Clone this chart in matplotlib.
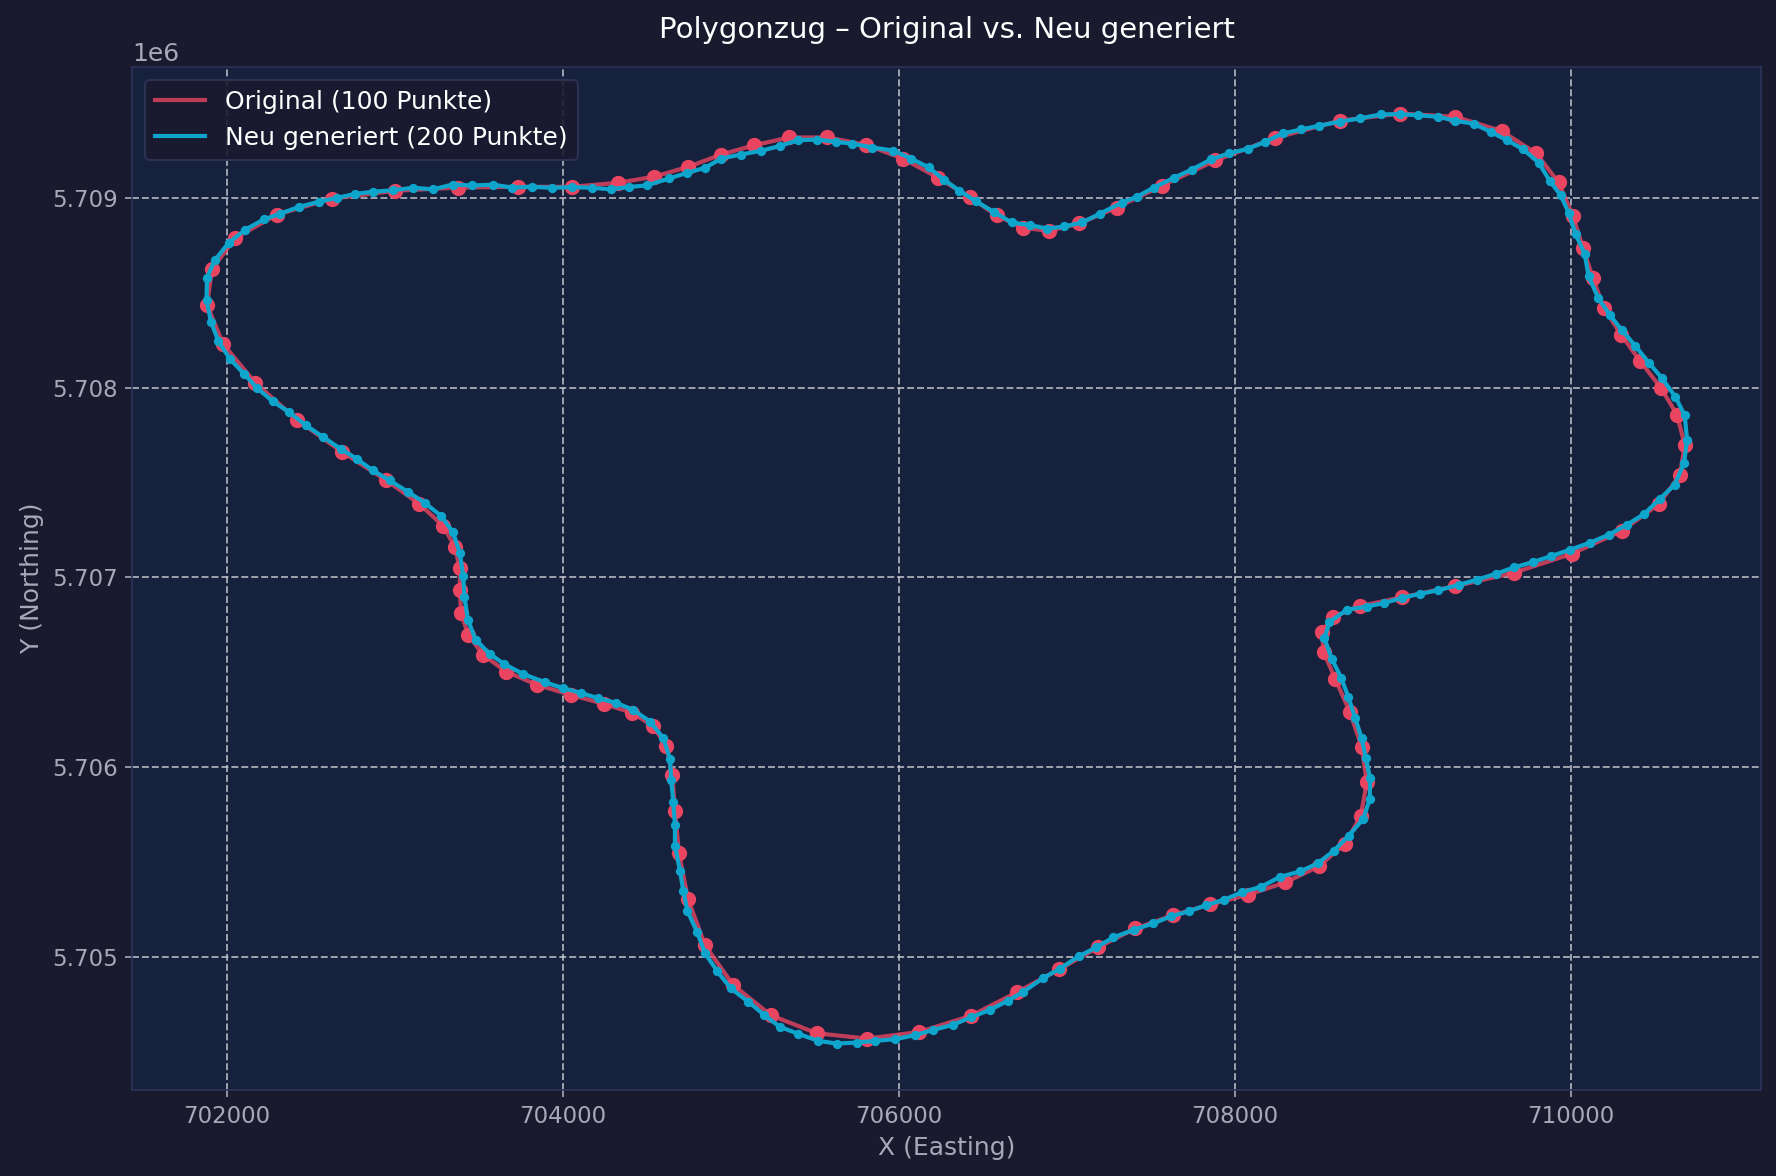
import numpy as np
import matplotlib
matplotlib.use("Agg")
import matplotlib.pyplot as plt

# Original polygon (100 points)
orig_x = [701881, 701911, 702050, 702298, 702626, 702999, 703376, 703734, 704052, 704325,
          704542, 704745, 704943, 705138, 705348, 705575, 705805, 706024, 706236, 706425,
          706584, 706737, 706896, 707075, 707297, 707565, 707885, 708242, 708624, 708985,
          709313, 709589, 709795, 709928, 710013, 710073, 710133, 710198, 710300, 710413,
          710536, 710633, 710679, 710651, 710526, 710305, 710008, 709662, 709311, 708998,
          708743, 708584, 708518, 708530, 708598, 708685, 708756, 708786, 708750, 708654,
          708500, 708302, 708081, 707855, 707630, 707408, 707188, 706955, 706701, 706429,
          706121, 705813, 705512, 705238, 705013, 704846, 704745, 704691, 704667, 704651,
          704616, 704538, 704413, 704244, 704050, 703847, 703662, 703525, 703436, 703394,
          703386, 703386, 703357, 703287, 703144, 702944, 702685, 702417, 702167, 701976]
orig_y = [5708437, 5708626, 5708789, 5708912, 5708996, 5709037, 5709054, 5709058, 5709058, 5709079,
          5709111, 5709163, 5709228, 5709277, 5709318, 5709318, 5709279, 5709207, 5709105, 5709002,
          5708907, 5708842, 5708826, 5708865, 5708949, 5709063, 5709197, 5709316, 5709406, 5709444,
          5709427, 5709352, 5709234, 5709081, 5708905, 5708738, 5708575, 5708420, 5708279, 5708141,
          5708000, 5707858, 5707699, 5707541, 5707387, 5707246, 5707125, 5707025, 5706954, 5706896,
          5706849, 5706791, 5706712, 5706606, 5706466, 5706293, 5706106, 5705921, 5705742, 5705596,
          5705478, 5705394, 5705329, 5705278, 5705220, 5705151, 5705053, 5704936, 5704814, 5704691,
          5704606, 5704571, 5704599, 5704694, 5704854, 5705063, 5705306, 5705547, 5705771, 5705961,
          5706111, 5706216, 5706287, 5706334, 5706381, 5706434, 5706504, 5706592, 5706698, 5706812,
          5706935, 5707049, 5707160, 5707272, 5707388, 5707515, 5707661, 5707831, 5708026, 5708231]

# Newly generated polygon (200 points)
new_x = [701878, 701881, 701927, 702010, 702110, 702219, 702318, 702427, 702546, 702656,
         702765, 702870, 702990, 703108, 703227, 703345, 703460, 703585, 703698, 703814,
         703933, 704052, 704171, 704284, 704395, 704502, 704632, 704741, 704846, 704943,
         705059, 705182, 705295, 705402, 705515, 705625, 705724, 705843, 705966, 706073,
         706177, 706270, 706359, 706459, 706568, 706673, 706781, 706885, 706985, 707090,
         707198, 707326, 707416, 707518, 707637, 707744, 707859, 707964, 708077, 708181,
         708286, 708395, 708504, 708624, 708743, 708868, 708981, 709090, 709209, 709313,
         709424, 709527, 709620, 709716, 709809, 709875, 709940, 709988, 710030, 710083,
         710107, 710163, 710232, 710305, 710385, 710466, 710543, 710624, 710679, 710693,
         710675, 710620, 710532, 710437, 710335, 710226, 710115, 709998, 709885, 709775,
         709662, 709553, 709444, 709334, 709209, 709102, 708998, 708887, 708786, 708667,
         708564, 708534, 708578, 708634, 708677, 708717, 708756, 708780, 708806, 708804,
         708765, 708679, 708588, 708494, 708391, 708270, 708157, 708041, 707934, 707829,
         707726, 707620, 707515, 707398, 707277, 707174, 707070, 706960, 706856, 706741,
         706648, 706542, 706429, 706320, 706206, 706097, 705978, 705859, 705748, 705629,
         705520, 705402, 705291, 705198, 705104, 705000, 704919, 704846, 704800, 704741,
         704717, 704697, 704667, 704667, 704657, 704645, 704638, 704598, 704519, 704418,
         704318, 704211, 704106, 704002, 703893, 703762, 703649, 703563, 703480, 703434,
         703414, 703406, 703386, 703345, 703275, 703176, 703077, 702969, 702868, 702771,
         702676, 702572, 702471, 702368, 702272, 702179, 702100, 702016, 701949, 701905]
new_y = [5708460, 5708580, 5708671, 5708763, 5708833, 5708886, 5708917, 5708952, 5708979, 5709000,
         5709021, 5709032, 5709040, 5709053, 5709045, 5709070, 5709065, 5709069, 5709054, 5709058,
         5709053, 5709056, 5709053, 5709045, 5709057, 5709066, 5709102, 5709132, 5709158, 5709207,
         5709228, 5709248, 5709274, 5709304, 5709307, 5709295, 5709285, 5709265, 5709249, 5709207,
         5709160, 5709095, 5709038, 5708982, 5708924, 5708870, 5708856, 5708838, 5708849, 5708870,
         5708917, 5708974, 5709005, 5709054, 5709105, 5709149, 5709202, 5709234, 5709258, 5709295,
         5709339, 5709360, 5709380, 5709401, 5709418, 5709439, 5709441, 5709435, 5709427, 5709406,
         5709390, 5709346, 5709304, 5709256, 5709186, 5709090, 5709014, 5708922, 5708808, 5708706,
         5708587, 5708474, 5708385, 5708302, 5708220, 5708130, 5708051, 5707951, 5707854, 5707726,
         5707603, 5707489, 5707415, 5707334, 5707278, 5707225, 5707183, 5707147, 5707113, 5707081,
         5707053, 5707019, 5706989, 5706961, 5706932, 5706914, 5706893, 5706865, 5706847, 5706830,
         5706765, 5706680, 5706571, 5706471, 5706369, 5706260, 5706153, 5706048, 5705944, 5705833,
         5705728, 5705640, 5705559, 5705494, 5705452, 5705423, 5705371, 5705341, 5705302, 5705274,
         5705241, 5705215, 5705178, 5705144, 5705104, 5705051, 5705004, 5704940, 5704888, 5704817,
         5704770, 5704722, 5704683, 5704643, 5704617, 5704589, 5704568, 5704559, 5704550, 5704545,
         5704559, 5704596, 5704633, 5704696, 5704765, 5704835, 5704926, 5705021, 5705130, 5705244,
         5705347, 5705455, 5705587, 5705696, 5705816, 5705933, 5706044, 5706153, 5706241, 5706303,
         5706339, 5706364, 5706392, 5706417, 5706448, 5706492, 5706545, 5706598, 5706673, 5706778,
         5706896, 5707010, 5707130, 5707239, 5707324, 5707394, 5707451, 5707511, 5707564, 5707626,
         5707678, 5707740, 5707801, 5707872, 5707928, 5707998, 5708074, 5708153, 5708244, 5708346]

bg = '#1a1a2e'
ax_bg = '#16213e'
red = '#e94560'
blue = '#0ea5cc'
txt = '#a8a8b8'

ox = np.append(orig_x, orig_x[0])
oy = np.append(orig_y, orig_y[0])
nx = np.append(new_x, new_x[0])
ny = np.append(new_y, new_y[0])

fig, ax = plt.subplots(figsize=(11.84, 7.84), dpi=150)
fig.patch.set_facecolor(bg)
ax.set_facecolor(ax_bg)

ax.plot(ox, oy, '-', color=red, lw=2, alpha=0.8, label='Original (100 Punkte)', zorder=2)
ax.scatter(orig_x, orig_y, color=red, s=40, zorder=3)
ax.plot(nx, ny, '-', color=blue, lw=2, label='Neu generiert (200 Punkte)', zorder=4)
ax.scatter(new_x, new_y, color=blue, s=12, zorder=5)

ax.set_title('Polygonzug – Original vs. Neu generiert', color='white', fontsize=14, pad=14)
ax.set_xlabel('X (Easting)', color=txt, fontsize=12)
ax.set_ylabel('Y (Northing)', color=txt, fontsize=12)
ax.tick_params(colors=txt, labelsize=11)
ax.yaxis.get_offset_text().set_color(txt)
ax.yaxis.get_offset_text().set_fontsize(12)
for s in ax.spines.values():
    s.set_color('#2c3358')
ax.grid(True, linestyle='--', color='#c8c8d0', alpha=0.8, lw=0.9)

leg = ax.legend(loc='upper left', facecolor=bg, edgecolor='#2f3454', fontsize=12, framealpha=0.9)
for t in leg.get_texts():
    t.set_color('white')

fig.subplots_adjust(left=0.0746, right=0.9916, top=0.943, bottom=0.0731)
fig.savefig('out.png', facecolor=bg)
